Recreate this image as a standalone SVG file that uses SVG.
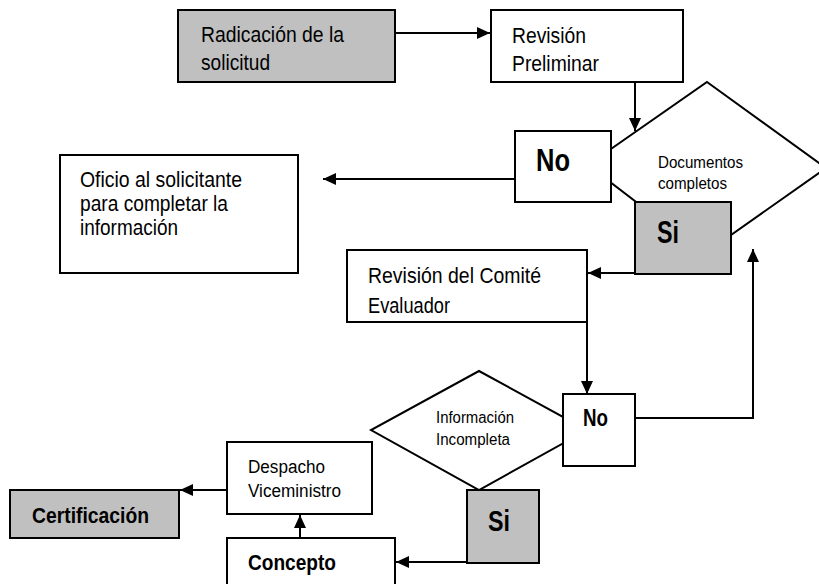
<svg xmlns="http://www.w3.org/2000/svg" width="819" height="584" viewBox="0 0 819 584">
<defs>
<style>
.box{fill:#ffffff;stroke:#000000;stroke-width:2}
.gray{fill:#c0c0c0;stroke:#000000;stroke-width:2}
.dia{fill:#ffffff;stroke:#000000;stroke-width:2}
.con{fill:none;stroke:#000000;stroke-width:2;marker-end:url(#ah)}
text{font-family:"Liberation Sans Narrow","Liberation Sans",Arial,sans-serif;fill:#000000}
.t{font-size:22px}
.s{font-size:16px}
.m{font-size:18px}
.b{font-weight:bold}
</style>
<marker id="ah" markerUnits="userSpaceOnUse" markerWidth="13" markerHeight="12" refX="13" refY="6" orient="auto">
<path d="M0,0 L13,6 L0,12 z" fill="#000000"/>
</marker>
</defs>
<rect width="819" height="584" fill="#ffffff"/>

<g id="radicacion">
<rect class="gray" x="178" y="10" width="217" height="72"/>
<text class="t" x="201" y="42" textLength="143" lengthAdjust="spacingAndGlyphs">Radicación de la</text>
<text class="t" x="201" y="70" textLength="69" lengthAdjust="spacingAndGlyphs">solicitud</text>
</g>

<g id="revision-preliminar">
<rect class="box" x="491" y="10" width="192" height="72"/>
<text class="t" x="512" y="43" textLength="74" lengthAdjust="spacingAndGlyphs">Revisión</text>
<text class="t" x="512" y="71" textLength="87" lengthAdjust="spacingAndGlyphs">Preliminar</text>
</g>

<g id="documentos-completos">
<polygon class="dia" points="707,82 826,168 704,254 588,165"/>
<text class="s" x="658" y="168" textLength="85" lengthAdjust="spacingAndGlyphs">Documentos</text>
<text class="s" x="658" y="189" textLength="69" lengthAdjust="spacingAndGlyphs">completos</text>
</g>

<g id="no-1">
<rect class="box" x="515" y="131" width="96" height="71"/>
<text class="b" x="536" y="171" font-size="31" textLength="34" lengthAdjust="spacingAndGlyphs">No</text>
</g>

<g id="si-1">
<rect class="gray" x="635" y="202" width="96" height="72"/>
<text class="b" x="657" y="243" font-size="31" textLength="22" lengthAdjust="spacingAndGlyphs">Si</text>
</g>

<g id="oficio">
<rect class="box" x="60" y="155" width="238" height="118"/>
<text class="t" x="80" y="187" textLength="162" lengthAdjust="spacingAndGlyphs">Oficio al solicitante</text>
<text class="t" x="80" y="211" textLength="148" lengthAdjust="spacingAndGlyphs">para completar la</text>
<text class="t" x="80" y="235" textLength="98" lengthAdjust="spacingAndGlyphs">información</text>
</g>

<g id="comite">
<rect class="box" x="347" y="250" width="240" height="72"/>
<text class="t" x="368" y="283" textLength="173" lengthAdjust="spacingAndGlyphs">Revisión del Comité</text>
<text class="t" x="368" y="313" textLength="82" lengthAdjust="spacingAndGlyphs">Evaluador</text>
</g>

<g id="informacion-incompleta">
<polygon class="dia" points="479,371 587,430 479,490 371,430"/>
<text class="s" x="436" y="423" textLength="78" lengthAdjust="spacingAndGlyphs">Información</text>
<text class="s" x="436" y="445" textLength="74" lengthAdjust="spacingAndGlyphs">Incompleta</text>
</g>

<g id="no-2">
<rect class="box" x="563" y="394" width="72" height="72"/>
<text class="b" x="583" y="426" font-size="24" textLength="25" lengthAdjust="spacingAndGlyphs">No</text>
</g>

<g id="si-2">
<rect class="gray" x="467" y="490" width="72" height="73"/>
<text class="b" x="488" y="531" font-size="30" textLength="22" lengthAdjust="spacingAndGlyphs">Si</text>
</g>

<g id="despacho">
<rect class="box" x="227" y="442" width="145" height="72"/>
<text class="m" x="248" y="473" textLength="77" lengthAdjust="spacingAndGlyphs">Despacho</text>
<text class="m" x="248" y="497" textLength="93" lengthAdjust="spacingAndGlyphs">Viceministro</text>
</g>

<g id="concepto">
<rect class="box" x="227" y="538" width="168" height="60"/>
<text class="t b" x="248" y="570" textLength="88" lengthAdjust="spacingAndGlyphs">Concepto</text>
</g>

<g id="certificacion">
<rect class="gray" x="10" y="490" width="169" height="48"/>
<text class="t b" x="32" y="523" textLength="117" lengthAdjust="spacingAndGlyphs">Certificación</text>
</g>

<g id="connectors">
<line class="con" x1="395" y1="33" x2="490" y2="33"/>
<line class="con" x1="635" y1="82" x2="635" y2="131"/>
<line class="con" x1="515" y1="179" x2="323" y2="179"/>
<line class="con" x1="635" y1="273" x2="588" y2="273"/>
<line class="con" x1="587" y1="322" x2="587" y2="394"/>
<polyline class="con" points="635,418 753,418 753,249"/>
<line class="con" x1="467" y1="562" x2="396" y2="562"/>
<line class="con" x1="300" y1="538" x2="300" y2="515"/>
<line class="con" x1="227" y1="490" x2="180" y2="490"/>
</g>
</svg>
